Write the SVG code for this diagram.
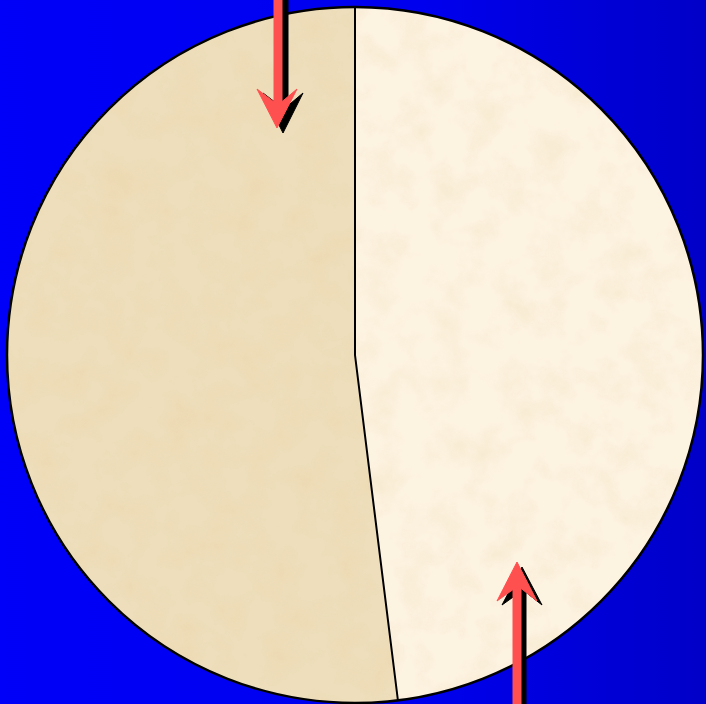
<svg xmlns="http://www.w3.org/2000/svg" width="706" height="704" viewBox="0 0 706 704">
  <defs>
    <linearGradient id="bg" x1="0" y1="0" x2="1" y2="0">
      <stop offset="0" stop-color="#0000f8"/>
      <stop offset="0.6" stop-color="#0000ee"/>
      <stop offset="1" stop-color="#0000c8"/>
    </linearGradient>
    <filter id="grain" x="0" y="0" width="100%" height="100%">
      <feTurbulence type="fractalNoise" baseFrequency="0.03" numOctaves="4" seed="3" result="n"/>
      <feColorMatrix in="n" type="matrix" values="0 0 0 0 0.84  0 0 0 0 0.68  0 0 0 0 0.42  0 0 0 -2.2 1.25" result="c"/>
      <feComposite in="c" in2="SourceGraphic" operator="in"/>
    </filter>
    <clipPath id="disc"><circle cx="355" cy="355" r="348"/></clipPath>
    <clipPath id="leftclip"><path d="M355,7 L355,355 L398,700.3 A348,348 0 1 1 355,7 Z"/></clipPath>
    <style>
      .shaft{stroke-width:9;fill:none}
      .red{fill:#ff5050;stroke:#ff5050}
      .shadow{fill:#000;stroke:#000}
      .edge{fill:none;stroke:#000;stroke-width:2.5}
    </style>
  </defs>
  <rect width="706" height="704" fill="url(#bg)"/>
  <g id="disc-node">
    <circle id="right-half" cx="355" cy="355" r="348" fill="#fdf3e1"/>
    <g clip-path="url(#disc)" opacity="0.25">
      <rect x="7" y="7" width="696" height="696" fill="#fff" filter="url(#grain)"/>
    </g>
    <path id="left-half" d="M355,7 L355,355 L398,700.3 A348,348 0 1 1 355,7 Z" fill="#eedebb"/>
    <g clip-path="url(#leftclip)" opacity="0.55">
      <rect x="7" y="7" width="400" height="696" fill="#fff" filter="url(#grain)"/>
    </g>
    <circle cx="355" cy="355" r="348" class="edge"/>
    <path d="M355,7 L355,355 L398,701" fill="none" stroke="#000" stroke-width="2"/>
  </g>
  <g id="connectors">
    <g id="arrow-down">
      <line x1="284" y1="0" x2="284" y2="112" class="shaft shadow"/>
      <polygon points="283,133 263,93 284,109 303,93" class="shadow" stroke="none"/>
      <line x1="278" y1="0" x2="278" y2="108" class="shaft red"/>
      <polygon points="277,128 257,89 278,105 297,89" class="red" stroke="none"/>
    </g>
    <g id="arrow-up">
      <line x1="522" y1="704" x2="522" y2="590" class="shaft shadow"/>
      <polygon points="522,567 502,605 523,590 542,605" class="shadow" stroke="none"/>
      <line x1="517" y1="704" x2="517" y2="585" class="shaft red"/>
      <polygon points="517,562 497,601 518,586 537,601" class="red" stroke="none"/>
    </g>
  </g>
</svg>
